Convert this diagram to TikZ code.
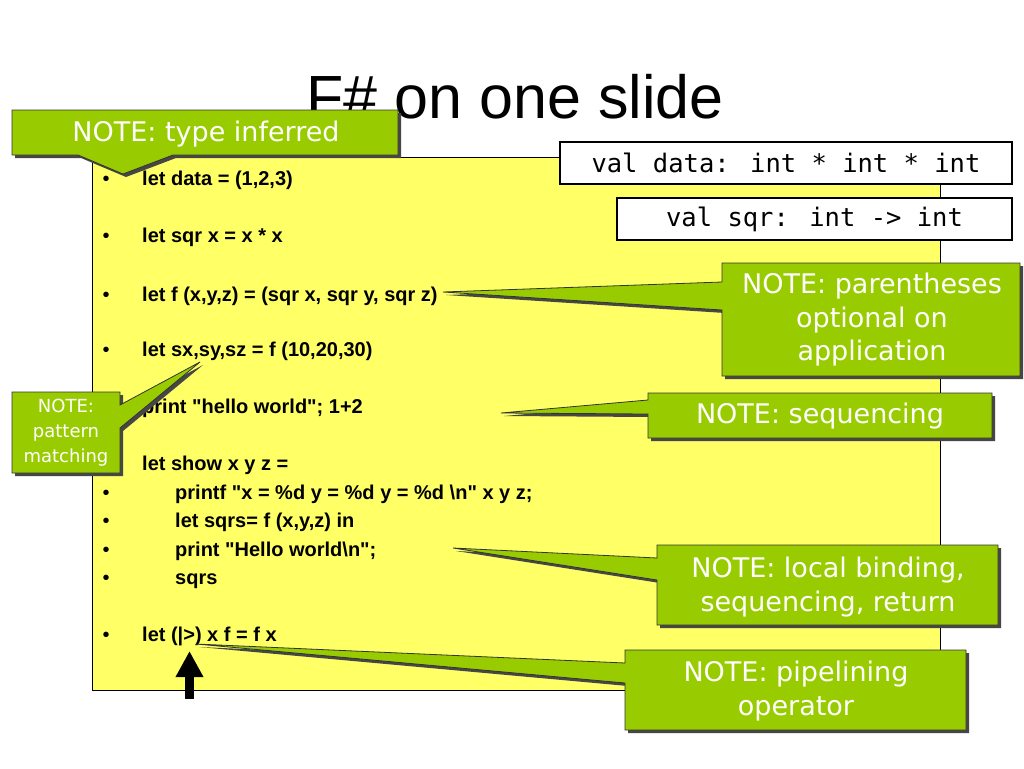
\documentclass[tikz,border=0pt]{standalone}
\usepackage{fontspec}
\setmainfont{Liberation Sans}
\newfontfamily\notefont{DejaVu Sans}
\newfontfamily\valfont{DejaVu Sans Mono}
\usetikzlibrary{arrows.meta}
\definecolor{slideyellow}{RGB}{255,255,102}
\definecolor{notegreen}{RGB}{153,204,0}
\definecolor{shadowgray}{RGB}{70,70,70}
\newcommand\notecallout[1]{%
  \fill[shadowgray,shift={(3,3)}] #1;
  \filldraw[fill=notegreen,draw=black!80,line width=0.8pt,line join=miter] #1;}
\newcommand\dq{\textquotedbl}
\begin{document}
\begin{tikzpicture}[x=1pt,y=-1pt,
  code/.style={anchor=base west,inner sep=0pt,font=\fontsize{20}{24}\selectfont\bfseries},
  bul/.style={anchor=base,inner sep=0pt,font=\fontsize{20}{24}\selectfont},
  notetext/.style={text=white,align=center,inner sep=0pt,font=\notefont\fontsize{27}{33.5}\selectfont},
  valbox/.style={draw=black,line width=1.2pt,fill=white,inner sep=0pt,font=\valfont\fontsize{25.5}{30}\selectfont},
  panel/.style={draw=black,line width=0.9pt,fill=slideyellow,inner sep=0pt}]
\fill[white] (0,0) rectangle (1024,768);
\useasboundingbox (0,0) rectangle (1024,768);

% title
\node[anchor=base,inner sep=0pt,font=\fontsize{61}{70}\selectfont] (title) at (515,118) {F\# on one slide};

% code panel
\node[panel,minimum width=848pt,minimum height=533pt] (panel) at (516,423.5) {};

% type boxes
\node[valbox,minimum width=452pt,minimum height=42pt] (valdata) at (786,163) {val data: int * int * int};
\node[valbox,minimum width=395pt,minimum height=42pt] (valsqr) at (814.5,219) {val sqr: int -> int};

% bullets
\foreach \y/\n in {185/1,242/2,301/3,356/4,499/5,527/6,556/7,584/8,641/9}
  \node[bul] (bul\n) at (106,\y) {\textbullet};

% code lines
\node[code] (c1) at (142,185) {let data = (1,2,3)};
\node[code] (c2) at (142,242) {let sqr x = x * x};
\node[code] (c3) at (142,301) {let f (x,y,z) = (sqr x, sqr y, sqr z)};
\node[code] (c4) at (142,356) {let sx,sy,sz = f (10,20,30)};
\node[code] (c5) at (142,413) {print \dq hello world\dq; 1+2};
\node[code] (c6) at (142,470) {let show x y z =};
\node[code] (c7) at (175,499) {printf \dq x = \%d y = \%d y = \%d \textbackslash n\dq\ x y z;};
\node[code] (c8) at (175,527) {let sqrs= f (x,y,z) in};
\node[code] (c9) at (175,556) {print \dq Hello world\textbackslash n\dq;};
\node[code] (c10) at (175,584) {sqrs};
\node[code] (c11) at (142,641) {let (|>) x f = f x};

% callouts
\notecallout{(12,110) -- (398,110) -- (398,155) -- (173,155) -- (123,174) -- (78,155) -- (12,155) -- cycle}
\notecallout{(722,263) -- (1020,263) -- (1020,376) -- (722,376) -- (722,310) -- (443,292) -- (722,282) -- cycle}
\notecallout{(648,393) -- (992,393) -- (992,438) -- (648,438) -- (648,414) -- (501,413) -- (648,400) -- cycle}
\notecallout{(657,545) -- (998,545) -- (998,625) -- (657,625) -- (657,580) -- (453,548) -- (657,558) -- cycle}
\notecallout{(625,650) -- (966,650) -- (966,730) -- (625,730) -- (625,683) -- (196,644) -- (625,663) -- cycle}
\notecallout{(12,392) -- (120,392) -- (120,405) -- (200,362) -- (120,428) -- (120,473) -- (12,473) -- cycle}

\node[notetext] (nA) at (206,134) {NOTE: type inferred};
\node[notetext] (nB) at (872,320) {NOTE: parentheses\\optional on\\application};
\node[notetext] (nC) at (820,416) {NOTE: sequencing};
\node[notetext] (nD) at (828,587) {NOTE: local binding,\\sequencing, return};
\node[notetext] (nE) at (796,691) {NOTE: pipelining\\operator};
\node[notetext,font=\notefont\fontsize{18}{25}\selectfont] (nF) at (66,433) {NOTE:\\pattern\\matching};

% arrow
\coordinate (arrowtail) at (189.5,699);
\coordinate (arrowtip) at (189.5,651);
\draw[line width=9pt,-{Triangle[width=26pt,length=26pt]}] (arrowtail) -- (arrowtip);
\end{tikzpicture}
\end{document}
